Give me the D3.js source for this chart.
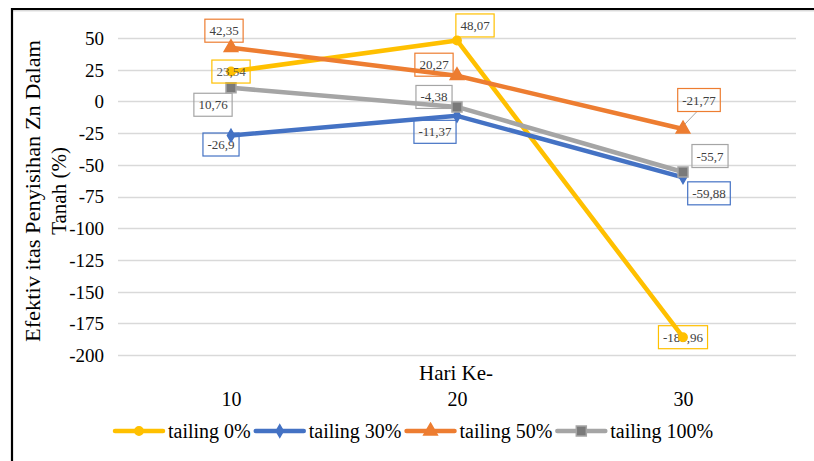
<!DOCTYPE html>
<html>
<head>
<meta charset="utf-8">
<script src="https://cdn.jsdelivr.net/npm/d3@7"></script>
<style>
  html, body { margin: 0; padding: 0; background: #fff; }
  svg { display: block; }
  text { font-family: "Liberation Serif", "Times New Roman", serif; }
</style>
</head>
<body>
<svg id="chart" width="814" height="461"></svg>
<script>
// Days of observation
const days = [10, 20, 30];
// Removal effectiveness (%) per tailing proportion
const tailing0 = [23.54, 48.07, -185.96];
const tailing30 = [-26.9, -11.37, -59.88];
const tailing50 = [42.35, 20.27, -21.77];
const tailing100 = [10.76, -4.38, -55.7];
const seriesNames = ["tailing 0%", "tailing 30%", "tailing 50%", "tailing 100%"];
const yTicks = [50, 25, 0, -25, -50, -75, -100, -125, -150, -175, -200];

const seriesValues = [tailing0, tailing30, tailing50, tailing100];

// Appearance per series
const styles = [
  { color: "#FFC000", marker: "circle", fill: "#FFC000", stroke: "#FFC000" },
  { color: "#4472C4", marker: "diamond", fill: "#4472C4", stroke: "#4472C4" },
  { color: "#ED7D31", marker: "triangle", fill: "#ED7D31", stroke: "#ED7D31" },
  { color: "#A5A5A5", marker: "square", fill: "#7A7A7A", stroke: "#A5A5A5" }
];
// Data label placement relative to each point [dx, dy]
const labelOffsets = [
  [[0, 0], [18, -15], [0, 0]],
  [[-10, 9], [-22, 16], [26, 16]],
  [[-7, -17], [-23, -11], [16, -29]],
  [[-18, 17], [-23, -10], [27, -16]]
];

const svg = d3.select("#chart");

// Outer frame edges
svg.append("line").attr("x1", 11).attr("x2", 814).attr("y1", 9).attr("y2", 9)
  .attr("stroke", "#000").attr("stroke-width", 2.2);
svg.append("line").attr("x1", 13).attr("x2", 814).attr("y1", 10.8).attr("y2", 10.8)
  .attr("stroke", "#bbb").attr("stroke-width", 0.8);
svg.append("line").attr("x1", 12).attr("x2", 12).attr("y1", 8).attr("y2", 461)
  .attr("stroke", "#000").attr("stroke-width", 2.2);

const x = d3.scalePoint().domain(days).range([118, 796]).padding(0.5);
const y = d3.scaleLinear().domain([-200, 50]).range([355, 38]);

// Horizontal gridlines
svg.append("g").selectAll("line").data(yTicks).join("line")
  .attr("x1", 118).attr("x2", 796)
  .attr("y1", d => Math.round(y(d)) + 0.5).attr("y2", d => Math.round(y(d)) + 0.5)
  .attr("stroke", "#D9D9D9").attr("stroke-width", 1.3);

// Y axis tick labels
const yAxis = d3.axisLeft(y).tickValues(yTicks).tickSize(0).tickPadding(0)
  .tickFormat(d => String(d));
svg.append("g").attr("transform", "translate(104,0)").call(yAxis)
  .call(g => g.select(".domain").remove())
  .call(g => g.selectAll("text")
    .attr("font-family", "Liberation Serif, Times New Roman, serif")
    .attr("font-size", 19).attr("fill", "#000").attr("dy", "0.34em"));

// X axis title and category labels
svg.append("text").attr("x", 456).attr("y", 373).attr("text-anchor", "middle")
  .attr("dominant-baseline", "central").attr("font-size", 21).attr("fill", "#000")
  .text("Hari Ke-");
const xAxis = d3.axisBottom(x).tickSize(0).tickPadding(0);
svg.append("g").attr("transform", "translate(0,392)").call(xAxis)
  .call(g => g.select(".domain").remove())
  .call(g => g.selectAll("text")
    .attr("font-family", "Liberation Serif, Times New Roman, serif")
    .attr("font-size", 20).attr("fill", "#000"));

// Y axis title, two lines
const yTitle = svg.append("g").attr("transform", "translate(0,191) rotate(-90)");
yTitle.append("text").attr("x", 0).attr("y", 33).attr("text-anchor", "middle")
  .attr("dominant-baseline", "central").attr("font-size", 21).attr("fill", "#000")
  .attr("textLength", 302).attr("lengthAdjust", "spacingAndGlyphs")
  .text("Efektiv itas Penyisihan Zn Dalam");
yTitle.append("text").attr("x", 0).attr("y", 59).attr("text-anchor", "middle")
  .attr("dominant-baseline", "central").attr("font-size", 21).attr("fill", "#000")
  .text("Tanah (%)");

function markerPath(type, size) {
  const sym = { circle: d3.symbolCircle, diamond: d3.symbolDiamond, triangle: d3.symbolTriangle, square: d3.symbolSquare }[type];
  return d3.symbol().type(sym).size(size)();
}
const markerSizes = { circle: 55, diamond: 45, triangle: 80, square: 100 };

const fmt = v => String(v).replace(".", ",");

// Data labels (boxes with coloured borders)
const labelsG = svg.append("g");
seriesValues.forEach((vals, si) => {
  vals.forEach((v, i) => {
    const px = x(days[i]), py = y(v);
    const [dx, dy] = labelOffsets[si][i];
    const cx = px + dx, cy = py + dy;
    const g = labelsG.append("g");
    const t = g.append("text").attr("x", cx).attr("y", cy)
      .attr("text-anchor", "middle").attr("dominant-baseline", "central")
      .attr("font-size", 13).attr("fill", "#404040").text(fmt(v));
    const w = t.node().getComputedTextLength() + 9;
    g.insert("rect", "text").attr("x", cx - w / 2).attr("y", cy - 11.5)
      .attr("width", w).attr("height", 23).attr("fill", "none")
      .attr("stroke", styles[si].color).attr("stroke-width", 1.2);
    if (Math.abs(dy) > 25) {
      labelsG.insert("line", ":first-child").attr("x1", cx - 2).attr("y1", cy + 11.5)
        .attr("x2", px + 1).attr("y2", py - 4)
        .attr("stroke", "#A6A6A6").attr("stroke-width", 1);
    }
  });
});

// Series lines and markers
const line = d3.line().x((d, i) => x(days[i])).y(d => y(d));
seriesValues.forEach((vals, si) => {
  const s = styles[si];
  svg.append("path").datum(vals).attr("d", line).attr("fill", "none")
    .attr("stroke", s.color).attr("stroke-width", 4.5).attr("stroke-linejoin", "round")
    .attr("stroke-linecap", "round");
  svg.append("g").selectAll("path").data(vals).join("path")
    .attr("d", markerPath(s.marker, markerSizes[s.marker]))
    .attr("transform", (d, i) => `translate(${x(days[i])},${y(d)})`)
    .attr("fill", s.fill).attr("stroke", s.stroke).attr("stroke-width", 1.5);
});

// Labels sitting on their own point stay readable above the marker
labelsG.selectAll("g").filter(function () {
  return this.querySelector("text").textContent === "23,54";
}).each(function () { svg.node().appendChild(this); })
  .select("text").attr("fill-opacity", 0.85);

// Legend
const legend = svg.append("g").attr("transform", "translate(115,431)");
let lx = 0;
seriesNames.forEach((name, si) => {
  const s = styles[si];
  const g = legend.append("g").attr("transform", `translate(${lx},0)`);
  g.append("line").attr("x1", 0).attr("x2", 48).attr("y1", 0).attr("y2", 0)
    .attr("stroke", s.color).attr("stroke-width", 4.5).attr("stroke-linecap", "round");
  g.append("path").attr("d", markerPath(s.marker, markerSizes[s.marker]))
    .attr("transform", "translate(24,0)")
    .attr("fill", s.fill).attr("stroke", s.stroke).attr("stroke-width", 1.5);
  const t = g.append("text").attr("x", 53).attr("y", 0).attr("dominant-baseline", "central")
    .attr("font-size", 20).attr("fill", "#000").text(name);
  lx += 53 + t.node().getComputedTextLength() + 5;
});
</script>
</body>
</html>
